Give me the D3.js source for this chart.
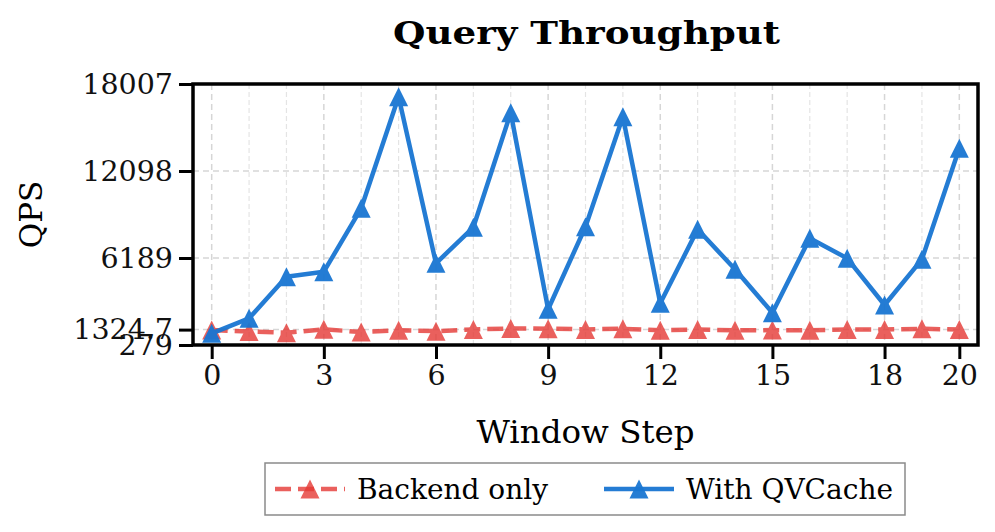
<!DOCTYPE html>
<html>
<head>
<meta charset="utf-8">
<script src="https://cdn.jsdelivr.net/npm/d3@7"></script>
<style>
  body { margin: 0; background: #fff; }
  svg { font-family: "DejaVu Serif", serif; }
</style>
</head>
<body>
<svg class="chart" width="995" height="532"></svg>
<script>
// data
const steps = [0, 1, 2, 3, 4, 5, 6, 7, 8, 9, 10, 11, 12, 13, 14, 15, 16, 17, 18, 19, 20];
const backendOnly = [1300, 1190, 1110, 1350, 1160, 1280, 1220, 1340, 1400, 1390, 1340,
                     1380, 1280, 1330, 1280, 1290, 1280, 1340, 1330, 1380, 1330];
const withQVCache = [1074, 2092, 4918, 5258, 9563, 17144, 5828, 8273, 16057, 2704, 8314,
                     15786, 3111, 8137, 5420, 2473, 7526, 6168, 2996, 6100, 13639];
const seriesNames = ["Backend only", "With QVCache"];
const yTicks = [279, 1324.7, 6189, 12098, 18007];
const yTickLabels = ["279", "1324.7", "6189", "12098", "18007"];
const xTicks = [0, 3, 6, 9, 12, 15, 18, 20];

const plotLeft = 193, plotRight = 978, plotTop = 84, plotBottom = 345;

const svg = d3.select(".chart");

const xScale = d3.scaleLinear().domain([-0.5, 20.5]).range([plotLeft, plotRight]);
const yScale = d3.scaleLinear().domain([279, 18007]).range([plotBottom, plotTop]);

const colors = { back: "#E53935", qv: "#1976D2" };

// grid: minor verticals at every step, major at ticks
svg.append("g")
    .selectAll("line")
    .data(steps.filter(s => !xTicks.includes(s)))
    .enter().append("line")
    .attr("x1", d => xScale(d)).attr("x2", d => xScale(d))
    .attr("y1", plotTop).attr("y2", plotBottom)
    .style("stroke", "#e4e4e4").style("stroke-width", 1.2)
    .style("stroke-dasharray", "5,3");

svg.append("g")
    .selectAll("line")
    .data(xTicks)
    .enter().append("line")
    .attr("x1", d => xScale(d)).attr("x2", d => xScale(d))
    .attr("y1", plotTop).attr("y2", plotBottom)
    .style("stroke", "#d6d6d6").style("stroke-width", 1.5)
    .style("stroke-dasharray", "6,4");

svg.append("g")
    .selectAll("line")
    .data(yTicks)
    .enter().append("line")
    .attr("x1", plotLeft).attr("x2", plotRight)
    .attr("y1", d => yScale(d)).attr("y2", d => yScale(d))
    .style("stroke", "#d6d6d6").style("stroke-width", 1.5)
    .style("stroke-dasharray", "6,4");

// axes
const xAxis = d3.axisBottom(xScale)
    .tickValues(xTicks)
    .tickFormat(d3.format("d"))
    .tickSize(14)
    .tickPadding(6);

const gx = svg.append("g")
    .attr("transform", `translate(0, ${plotBottom})`)
    .call(xAxis);

const yAxis = d3.axisLeft(yScale)
    .tickValues(yTicks)
    .tickFormat((d, i) => yTickLabels[i])
    .tickSize(14)
    .tickPadding(6);

const gy = svg.append("g")
    .attr("transform", `translate(${plotLeft}, 0)`)
    .call(yAxis);

[gx, gy].forEach(g => {
    g.select(".domain").remove();
    g.selectAll(".tick line").style("stroke", "#000").style("stroke-width", 3);
    g.selectAll(".tick text")
        .style("font-family", "DejaVu Serif")
        .style("font-size", "28.5px")
        .style("fill", "#111");
});

// triangle marker, centred like matplotlib's '^'
function triangle(s) {
    const h = s / 2;
    return `M0,${-h}L${h},${h}L${-h},${h}Z`;
}

const line = d3.line()
    .x((d, i) => xScale(steps[i]))
    .y(d => yScale(d));

// backend only (dashed)
const gBack = svg.append("g").style("opacity", 0.8);
gBack.append("path")
    .datum(backendOnly)
    .attr("d", line)
    .style("fill", "none")
    .style("stroke", colors.back)
    .style("stroke-width", 4.5)
    .style("stroke-dasharray", "16,7");
gBack.selectAll("path.mk")
    .data(backendOnly)
    .enter().append("path")
    .attr("class", "mk")
    .attr("d", triangle(19))
    .attr("transform", (d, i) => `translate(${xScale(steps[i])},${yScale(d)})`)
    .style("fill", colors.back);

// with QVCache
const gQv = svg.append("g").style("opacity", 0.95);
gQv.append("path")
    .datum(withQVCache)
    .attr("d", line)
    .style("fill", "none")
    .style("stroke", colors.qv)
    .style("stroke-width", 4.5)
    .style("stroke-linejoin", "round");
gQv.selectAll("path.mk")
    .data(withQVCache)
    .enter().append("path")
    .attr("class", "mk")
    .attr("d", triangle(19))
    .attr("transform", (d, i) => `translate(${xScale(steps[i])},${yScale(d)})`)
    .style("fill", colors.qv);

// frame
svg.append("rect")
    .attr("x", plotLeft).attr("y", plotTop)
    .attr("width", plotRight - plotLeft).attr("height", plotBottom - plotTop)
    .style("fill", "none")
    .style("stroke", "#000")
    .style("stroke-width", 3.5);

// title and axis labels
svg.append("text")
    .attr("x", 586.5)
    .attr("y", 44)
    .attr("textLength", 387)
    .attr("lengthAdjust", "spacingAndGlyphs")
    .style("text-anchor", "middle")
    .style("font-size", "31px")
    .style("font-weight", "bold")
    .text("Query Throughput");

svg.append("text")
    .attr("transform", "rotate(-90)")
    .attr("x", -(plotTop + plotBottom) / 2)
    .attr("y", 42)
    .style("text-anchor", "middle")
    .style("font-size", "31px")
    .text("QPS");

svg.append("text")
    .attr("x", (plotLeft + plotRight) / 2)
    .attr("y", 443)
    .style("text-anchor", "middle")
    .style("font-size", "32.5px")
    .text("Window Step");

// legend
const legend = svg.append("g").attr("class", "legend");
legend.append("rect")
    .attr("x", 265).attr("y", 463)
    .attr("width", 640).attr("height", 52)
    .style("fill", "#fff")
    .style("stroke", "#8a8a8a")
    .style("stroke-width", 1.5);

const legendItems = legend.selectAll(".legend-item")
    .data(seriesNames)
    .enter().append("g")
    .attr("class", "legend-item")
    .attr("transform", (d, i) => `translate(${275 + i * 329}, 489)`);

legendItems.append("line")
    .attr("x1", 0).attr("x2", 70)
    .style("stroke", (d, i) => i === 0 ? colors.back : colors.qv)
    .style("stroke-width", 4.5)
    .style("stroke-dasharray", (d, i) => i === 0 ? "16,7" : null)
    .style("opacity", (d, i) => i === 0 ? 0.8 : 0.95);

legendItems.append("path")
    .attr("d", triangle(19))
    .attr("transform", "translate(35,0)")
    .style("fill", (d, i) => i === 0 ? colors.back : colors.qv)
    .style("opacity", (d, i) => i === 0 ? 0.8 : 0.95);

legendItems.append("text")
    .attr("x", 82)
    .attr("y", 10)
    .style("font-size", "28px")
    .text(d => d);
</script>
</body>
</html>
